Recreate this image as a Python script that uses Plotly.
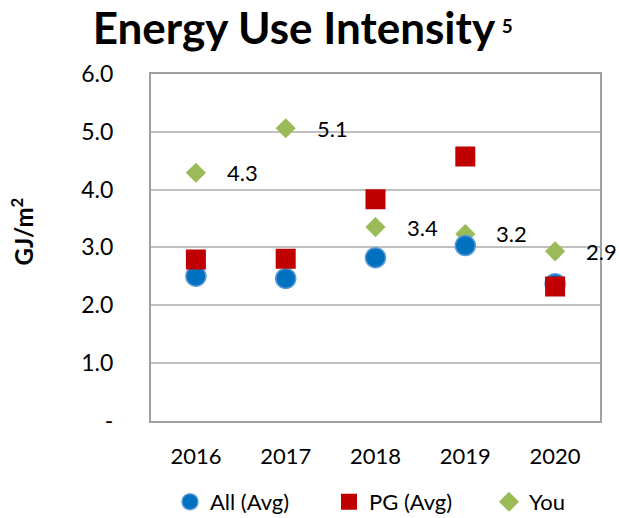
import plotly.graph_objects as go

years = ["2016", "2017", "2018", "2019", "2020"]
all_avg = [2.50, 2.46, 2.82, 3.03, 2.37]
pg_avg = [2.79, 2.80, 3.83, 4.57, 2.32]
you = [4.29, 5.06, 3.35, 3.23, 2.93]
you_labels = ["4.3", "5.1", "3.4", "3.2", "2.9"]
y_tickvals = [0, 1, 2, 3, 4, 5, 6]
y_ticktext = ["-", "1.0", "2.0", "3.0", "4.0", "5.0", "6.0"]

FONT = "Lato"

fig = go.Figure()
fig.add_trace(go.Scatter(
    x=years, y=you, mode="markers", name="You", legend="legend3",
    marker=dict(symbol="diamond", size=15.5, color="#9BBB59", line=dict(width=0)),
))
fig.add_trace(go.Scatter(
    x=years, y=all_avg, mode="markers", name="All (Avg)", legend="legend",
    marker=dict(symbol="circle", size=20, color="#0070C0", line=dict(color="#5B9BD5", width=1.5)),
))
fig.add_trace(go.Scatter(
    x=years, y=pg_avg, mode="markers", name="PG (Avg)", legend="legend2",
    marker=dict(symbol="square", size=20, color="#C00000", line=dict(width=0)),
))

for i, (yv, t) in enumerate(zip(you, you_labels)):
    fig.add_annotation(x=i, y=yv, xref="x", yref="y", text=t, showarrow=False, xanchor="left",
                       yanchor="middle", xshift=29, font=dict(family=FONT, size=22, color="#000000"))

fig.add_annotation(xref="paper", yref="paper", x=-0.287, y=0.546, xanchor="center", yanchor="middle",
                   text="<b>GJ/m<sup>2</sup></b>",
                   textangle=-90, showarrow=False, font=dict(family=FONT, size=24, color="#000000"))

leg_common = dict(orientation="h", xanchor="left", yref="container", y=0.031, yanchor="middle",
                  font=dict(family=FONT, size=22), itemsizing="trace", bgcolor="rgba(0,0,0,0)")

fig.update_layout(
    width=619, height=518,
    margin=dict(l=151, r=19, t=74, b=93),
    paper_bgcolor="white", plot_bgcolor="white",
    font=dict(family=FONT, color="#000000"),
    title=dict(text="<b>Energy Use Intensity<span style='font-size:27px'> <sup>5</sup></span></b>",
               x=0.489, xanchor="center",
               y=0.945, yanchor="middle", font=dict(family=FONT, size=44, color="#000000")),
    showlegend=True,
    legend=dict(x=0.0423, **leg_common),
    legend2=dict(x=0.3964, **leg_common),
    legend3=dict(x=0.7528, **leg_common),
    xaxis=dict(type="category", range=[-0.5, 4.5], showgrid=False, showline=True, mirror=True,
               linecolor="#A0A0A0", linewidth=2, tickfont=dict(family=FONT, size=22),
               ticks="", ticklabelstandoff=15, zeroline=False),
    yaxis=dict(range=[0, 6], tickvals=y_tickvals, ticktext=y_ticktext, showgrid=True,
               gridcolor="#C0C0C0", gridwidth=1.5, showline=True, mirror=True,
               linecolor="#A0A0A0", linewidth=2, tickfont=dict(family=FONT, size=23),
               ticks="", ticklabelstandoff=31, zeroline=False),
)

fig.write_html("out.html", config={"displayModeBar": False},
               post_script="document.body.style.margin='0px';")
